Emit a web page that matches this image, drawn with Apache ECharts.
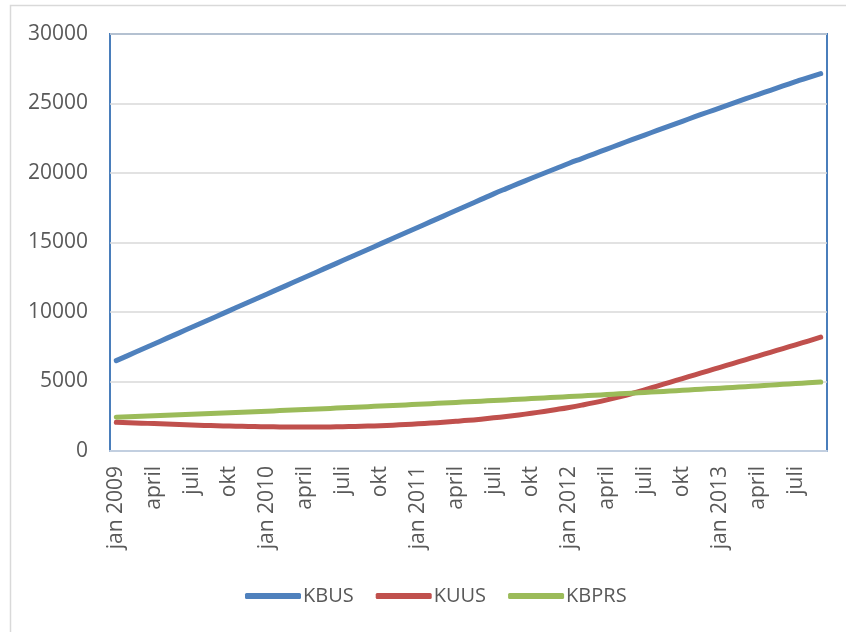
<!DOCTYPE html>
<html>
<head>
<meta charset="utf-8">
<script src="https://cdn.jsdelivr.net/npm/echarts@6/dist/echarts.min.js"></script>
<style>
html,body{margin:0;padding:0;background:#fff;}
#c{width:846px;height:632px;}
</style>
</head>
<body>
<div id="c"></div>
<script>
const years = [2009, 2010, 2011, 2012, 2013];
const monthNames = ['jan','feb','mars','april','maj','juni','juli','aug','sep','okt','nov','dec'];
const monthCount = 57;
const categories = [];
for (let i = 0; i < monthCount; i++) {
  const m = i % 12, y = years[Math.floor(i / 12)];
  categories.push(m === 0 ? 'jan ' + y : monthNames[m]);
}
const yTicks = [0, 5000, 10000, 15000, 20000, 25000, 30000];

const KBUS = [6500,6900,7300,7700,8100,8500,8900,9300,9700,10100,10500,10900,
  11300,11700,12100,12500,12900,13300,13700,14100,14500,14900,15300,15700,
  16100,16500,16900,17300,17700,18100,18500,18880,19250,19620,19980,20340,
  20700,21040,21380,21720,22060,22400,22730,23060,23390,23720,24050,24370,
  24690,25010,25330,25640,25950,26260,26570,26870,27150];
const KUUS = [2070,2040,2005,1970,1935,1900,1870,1840,1815,1795,1775,1760,
  1745,1735,1725,1720,1720,1730,1745,1765,1790,1820,1860,1905,
  1955,2010,2070,2135,2205,2290,2385,2485,2595,2715,2845,2985,
  3135,3300,3480,3680,3900,4140,4400,4670,4940,5210,5480,5750,
  6020,6290,6560,6830,7100,7370,7640,7910,8190];
const KBPRS = [2430,2464,2499,2534,2569,2605,2641,2678,2715,2752,2790,2828,
  2867,2906,2945,2985,3025,3066,3107,3148,3190,3232,3275,3318,
  3361,3405,3449,3494,3539,3584,3630,3676,3723,3770,3817,3865,
  3913,3962,4011,4060,4110,4160,4211,4262,4313,4365,4417,4470,
  4523,4576,4630,4684,4739,4794,4849,4905,4960];

const font = '"Open Sans", "Liberation Sans", sans-serif';
const chart = echarts.init(document.getElementById('c'), null, {renderer: 'canvas'});
function mk(name, data, color) {
  return {
    name, type: 'line', data, smooth: true, symbol: 'none', showSymbol: false,
    lineStyle: {color, width: 5, cap: 'round', join: 'round'},
    itemStyle: {color}
  };
}
chart.setOption({
  animation: false,
  backgroundColor: '#fff',
  graphic: [{
    type: 'rect', z: -10, silent: true,
    shape: {x: 10.5, y: 5.5, width: 900, height: 700},
    style: {fill: 'none', stroke: '#d9d9d9', lineWidth: 1.5}
  }],
  grid: {
    left: 110, top: 34, right: 19, bottom: 181,
    show: true, borderColor: '#4a7ebb', borderWidth: 2, backgroundColor: 'transparent'
  },
  legend: {
    bottom: 21, left: 240,
    itemWidth: 56, itemHeight: 6, itemGap: 22,
    icon: 'roundRect',
    textStyle: {fontFamily: font, fontSize: 20, color: '#595959', padding: [0,0,0,-3]},
    data: ['KBUS', 'KUUS', 'KBPRS']
  },
  xAxis: {
    type: 'category', data: categories, boundaryGap: true,
    axisLine: {show: true, lineStyle: {color: '#c2cfe0', width: 2}},
    axisTick: {show: false},
    axisLabel: {interval: 2, rotate: 90, margin: 15, fontFamily: font, fontSize: 21, color: '#595959'},
    splitLine: {show: false}
  },
  yAxis: {
    type: 'value', min: yTicks[0], max: yTicks[yTicks.length - 1], interval: yTicks[1] - yTicks[0],
    axisLine: {show: false}, axisTick: {show: false},
    axisLabel: {margin: 22, fontFamily: font, fontSize: 21, color: '#595959', formatter: v => String(v)},
    splitLine: {lineStyle: {color: '#d9d9d9', width: 1.5}}
  },
  series: [mk('KBUS', KBUS, '#4f81bd'), mk('KUUS', KUUS, '#c0504d'), mk('KBPRS', KBPRS, '#9bbb59')]
});
</script>
</body>
</html>
